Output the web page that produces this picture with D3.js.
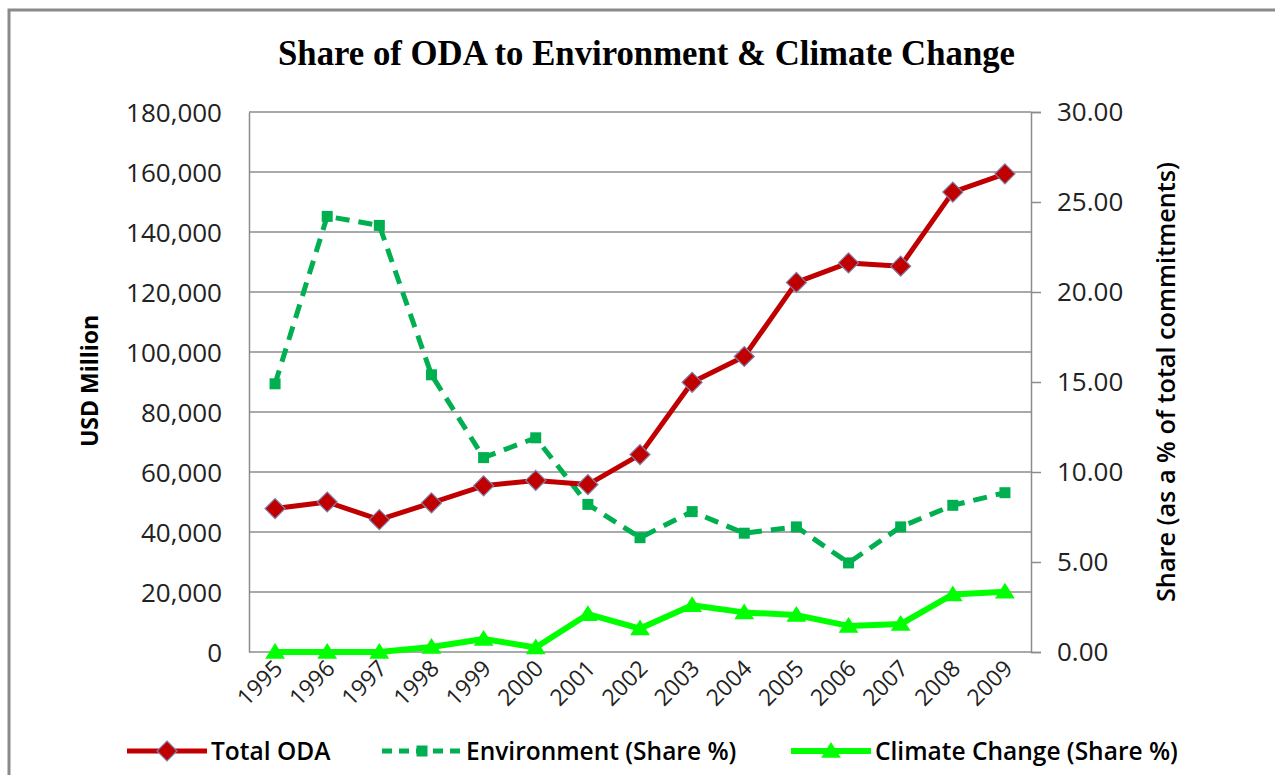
<!DOCTYPE html>
<html>
<head>
<meta charset="utf-8">
<script src="https://cdn.jsdelivr.net/npm/d3@7"></script>
<style>
  body { margin: 0; background: #fff; }
  svg { display: block; }
  .tick text { font-family: "Open Sans", sans-serif; fill: #222; }
</style>
</head>
<body>
<svg id="graphic-svg" width="1275" height="775"></svg>
<script>
var svg = d3.select("#graphic-svg");

// Data
var years = ["1995","1996","1997","1998","1999","2000","2001","2002","2003","2004","2005","2006","2007","2008","2009"];
var totalODA = [47800, 50000, 44100, 49700, 55400, 57200, 55800, 65800, 89900, 98500, 123200, 129700, 128600, 153300, 159400];
var envShare = [14.9, 24.2, 23.7, 15.4, 10.8, 11.9, 8.2, 6.35, 7.8, 6.6, 6.95, 4.95, 6.95, 8.15, 8.85];
var climateShare = [0, 0, 0, 0.28, 0.72, 0.25, 2.1, 1.3, 2.6, 2.2, 2.05, 1.45, 1.55, 3.2, 3.35];
var leftTicks = [0, 20000, 40000, 60000, 80000, 100000, 120000, 140000, 160000, 180000];
var rightTicks = [0, 5, 10, 15, 20, 25, 30];

var margin = { left: 249, right: 1031, top: 112, bottom: 652 };

// Colors
var red = "#c00000";
var envGreen = "#00b050";
var climGreen = "#00ff00";
var gridGray = "#8c8c8c";

// Scales
var xScale = d3.scaleBand().domain(years).range([margin.left, margin.right]);
var yLeft = d3.scaleLinear().domain([0, 180000]).range([margin.bottom, margin.top]);
var yRight = d3.scaleLinear().domain([0, 30]).range([margin.bottom, margin.top]);
var xc = function(i) { return xScale(years[i]) + xScale.bandwidth() / 2; };

// Outer frame
svg.append("path")
   .attr("d", "M9,780 L9,10 L1280,10")
   .style("fill", "none")
   .style("stroke", "#8a8a8a")
   .style("stroke-width", 3);

// Title
svg.append("text")
   .text("Share of ODA to Environment & Climate Change")
   .attr("x", 278)
   .attr("y", 65)
   .attr("textLength", 737)
   .attr("lengthAdjust", "spacingAndGlyphs")
   .style("font-family", "'Liberation Serif', serif")
   .style("font-weight", "bold")
   .style("font-size", "35px")
   .style("fill", "#000");

// Gridlines
svg.append("g")
   .selectAll("line")
   .data(leftTicks)
   .enter()
   .append("line")
   .attr("x1", margin.left)
   .attr("x2", margin.right)
   .attr("y1", function(d) { return yLeft(d); })
   .attr("y2", function(d) { return yLeft(d); })
   .style("stroke", gridGray)
   .style("stroke-width", 1.5);

// Left axis
var leftAxis = svg.append("g")
   .attr("transform", "translate(" + margin.left + ",0)")
   .call(d3.axisLeft(yLeft).tickValues(leftTicks).tickSize(0).tickPadding(27).tickFormat(d3.format(",")));
leftAxis.select(".domain").style("stroke", gridGray).style("stroke-width", 1.5);
leftAxis.selectAll(".tick text").style("font-size", "26px").attr("dy", "0.35em");

// Right axis
var rightAxis = svg.append("g")
   .attr("transform", "translate(" + margin.right + ",0)")
   .call(d3.axisRight(yRight).tickValues(rightTicks).tickSize(10).tickPadding(16).tickFormat(d3.format(".2f")));
rightAxis.select(".domain").style("stroke", gridGray).style("stroke-width", 1.5);
rightAxis.selectAll(".tick line").style("stroke", gridGray).style("stroke-width", 1.5);
rightAxis.selectAll(".tick text").style("font-size", "26px");

// X axis labels
svg.append("g")
   .selectAll("text")
   .data(years)
   .enter()
   .append("text")
   .text(function(d) { return d; })
   .attr("transform", function(d, i) { return "translate(" + (xc(i) + 9) + ",670) rotate(-45)"; })
   .style("text-anchor", "end")
   .style("font-family", "'Open Sans', sans-serif")
   .style("font-size", "23px")
   .style("fill", "#222");

// Axis titles
svg.append("text")
   .text("USD Million")
   .attr("transform", "translate(98,381) rotate(-90)")
   .style("text-anchor", "middle")
   .style("font-family", "'Open Sans', sans-serif")
   .style("font-weight", "bold")
   .style("font-size", "23px");
svg.append("text")
   .text("Share (as a % of total commitments)")
   .attr("transform", "translate(1175,382) rotate(-90)")
   .attr("textLength", 440)
   .attr("lengthAdjust", "spacingAndGlyphs")
   .style("text-anchor", "middle")
   .style("font-family", "'Open Sans', sans-serif")
   .style("font-weight", "600")
   .style("font-size", "25px");

// Marker paths
function diamond(r) { return "M0," + (-r) + "L" + r + ",0L0," + r + "L" + (-r) + ",0Z"; }
function square(s) { return "M" + (-s) + "," + (-s) + "h" + (2*s) + "v" + (2*s) + "h" + (-2*s) + "Z"; }
function triangle(s) { return "M0," + (-s) + "L" + (s*1.1) + "," + (s*0.75) + "L" + (-s*1.1) + "," + (s*0.75) + "Z"; }

// Series lines
var series = [
  { name: "Total ODA", values: totalODA, scale: yLeft, color: red, width: 5, dash: null, marker: diamond(10), mfill: red, mstroke: "#7f7fa8" },
  { name: "Environment (Share %)", values: envShare, scale: yRight, color: envGreen, width: 5, dash: "14,9", marker: square(5.5), mfill: envGreen, mstroke: "none" },
  { name: "Climate Change (Share %)", values: climateShare, scale: yRight, color: climGreen, width: 6, dash: null, marker: triangle(9), mfill: climGreen, mstroke: "none" }
];

var lineGen = d3.line()
   .x(function(d, i) { return xc(i); });

series.slice().reverse().forEach(function(s) {
  var g = svg.append("g");
  g.append("path")
   .datum(s.values)
   .attr("d", lineGen.y(function(d) { return s.scale(d); }))
   .style("fill", "none")
   .style("stroke", s.color)
   .style("stroke-width", s.width)
   .style("stroke-linejoin", "round")
   .style("stroke-dasharray", s.dash);
  g.selectAll(".marker")
   .data(s.values)
   .enter()
   .append("path")
   .attr("class", "marker")
   .attr("d", s.marker)
   .attr("transform", function(d, i) { return "translate(" + xc(i) + "," + s.scale(d) + ")"; })
   .style("fill", s.mfill)
   .style("stroke", s.mstroke)
   .style("stroke-width", 1.2);
});

// Legend
var legendX = [127, 382, 791];
var legend = svg.selectAll(".legendItem")
   .data(series)
   .enter()
   .append("g")
   .attr("class", "legendItem")
   .attr("transform", function(d, i) { return "translate(" + legendX[i] + ",751)"; });
legend.append("line")
   .attr("x1", 0)
   .attr("x2", 80)
   .style("stroke", function(d) { return d.color; })
   .style("stroke-width", function(d) { return d.width; })
   .style("stroke-dasharray", function(d) { return d.dash ? "10,7" : null; });
legend.append("path")
   .attr("d", function(d) { return d.marker; })
   .attr("transform", "translate(40,0)")
   .style("fill", function(d) { return d.mfill; })
   .style("stroke", function(d) { return d.mstroke; })
   .style("stroke-width", 1.2);
legend.append("text")
   .text(function(d) { return d.name; })
   .attr("x", 84)
   .attr("y", 0)
   .attr("dy", "0.35em")
   .style("font-family", "'Open Sans', sans-serif")
   .style("font-weight", "600")
   .style("font-size", "24.5px")
   .style("fill", "#000");
</script>
</body>
</html>
